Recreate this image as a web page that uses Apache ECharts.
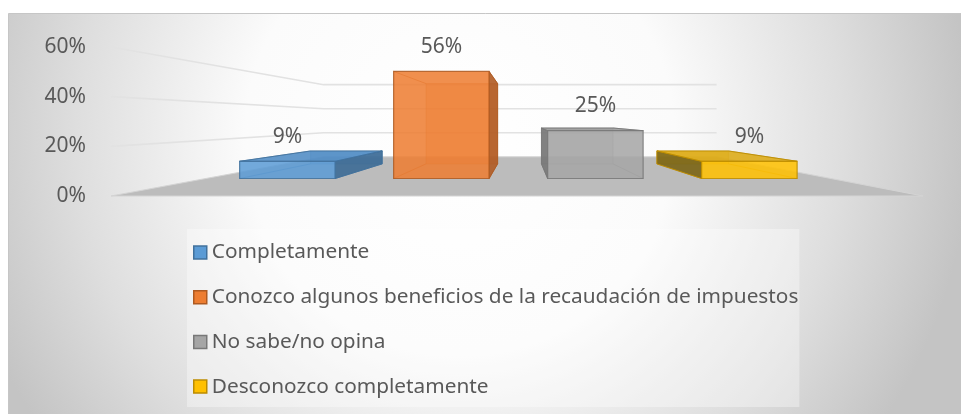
<!DOCTYPE html>
<html><head><meta charset="utf-8">
<script src="https://cdn.jsdelivr.net/npm/echarts@6/dist/echarts.min.js"></script>
<style>html,body{margin:0;padding:0;background:#fff}#c{width:961px;height:414px}</style>
</head><body><div id="c"></div>
<script>
// ---- data ----
const categories = ['Completamente', 'Conozco algunos beneficios de la recaudación de impuestos', 'No sabe/no opina', 'Desconozco completamente'];
const values = [0.09, 0.56, 0.25, 0.09];
const valueLabels = ['9%', '56%', '25%', '9%'];
const yTickValues = [0, 0.2, 0.4, 0.6];
const yTickLabels = ['0%', '20%', '40%', '60%'];

// ---- style ----
const faceColors = ['#5b9bd5', '#ed7d31', '#a5a5a5', '#ffc000'];
const edgeColors = ['#41719c', '#ae5a21', '#787878', '#bc8c00'];
const sideColors = ['#3c6a95', '#b05a22', '#777777', '#7a6414'];
const topColors  = ['#4f8bc4', '#d9702b', '#9a9a9a', '#dcaa14'];
const FONT = '"Noto Sans", "Open Sans", sans-serif';
const TXT = '#595959';
const VX = 523, VY = 120, K_FRONT = 0.77, K_BACK = 0.577, K_WALL = 0.484;
function proj(p, k) { return [VX + (p[0] - VX) * k, VY + (p[1] - VY) * k]; }

function wallItem(params, api) {
  const cs = params.coordSys;
  const v = api.value(1);
  const y = api.coord([0, v])[1];
  const xl = cs.x - 6, xr = cs.x + cs.width + 6;
  if (v === 0) {
    return { type: 'polygon', shape: { points: [[xl, y], [xr, y], proj([xr, y], K_WALL), proj([xl, y], K_WALL)] },
      style: { fill: '#bcbcbc', stroke: '#d4d4d4', lineWidth: 1 } };
  }
  return { type: 'polyline', shape: { points: [[xl, y], proj([xl, y], K_WALL), proj([xr, y], K_WALL)] },
    style: { stroke: '#e2e2e2', lineWidth: 1.6, fill: null } };
}

function makeBar(i) {
  return function (params, api) {
    const c = api.coord([api.value(0), 0]);
    const t = api.coord([api.value(0), api.value(1)]);
    const hw = api.size([1, 0])[0] * 0.31;
    const xl = c[0] - hw, xr = c[0] + hw, yb = c[1], yt = t[1];
    const F = (x, y) => proj([x, y], K_FRONT), B = (x, y) => proj([x, y], K_BACK);
    const edge = edgeColors[i];
    const ch = [];
    ch.push({ type: 'polygon', shape: { points: [B(xl, yt), B(xr, yt), B(xr, yb), B(xl, yb)] },
      style: { fill: faceColors[i], opacity: 0.35, stroke: edge, lineWidth: 1 } });
    [[xl, yt], [xr, yt], [xl, yb], [xr, yb]].forEach(p => {
      const a = F(p[0], p[1]), b = B(p[0], p[1]);
      ch.push({ type: 'line', shape: { x1: a[0], y1: a[1], x2: b[0], y2: b[1] },
        style: { stroke: edge, lineWidth: 1, opacity: 0.6 } });
    });
    const sx = c[0] < VX ? xr : xl;
    ch.push({ type: 'polygon', shape: { points: [F(sx, yt), B(sx, yt), B(sx, yb), F(sx, yb)] },
      style: { fill: sideColors[i], opacity: 0.9, stroke: edge, lineWidth: 1 } });
    if (yt > VY) {
      ch.push({ type: 'polygon', shape: { points: [F(xl, yt), F(xr, yt), B(xr, yt), B(xl, yt)] },
        style: { fill: topColors[i], opacity: 0.88, stroke: edge, lineWidth: 1 } });
    }
    const f1 = F(xl, yt), f2 = F(xr, yb);
    ch.push({ type: 'rect', shape: { x: f1[0], y: f1[1], width: f2[0] - f1[0], height: f2[1] - f1[1] },
      style: { fill: faceColors[i], opacity: 0.86, stroke: edge, lineWidth: 1.2 } });
    const lc = F(c[0], yt);
    ch.push({ type: 'text', x: lc[0], y: lc[1] - 14,
      style: { text: valueLabels[i], fill: TXT, fontSize: 21, fontFamily: FONT, align: 'center', verticalAlign: 'bottom' } });
    return { type: 'group', children: ch };
  };
}

const chart = echarts.init(document.getElementById('c'), null, { renderer: 'canvas' });
const series = [{
  type: 'custom', name: '_walls', z: 1, clip: false, silent: true,
  data: yTickValues.map(v => [0, v]), renderItem: wallItem
}].concat(categories.map((name, i) => ({
  type: 'custom', name: name, z: 3, clip: false,
  itemStyle: { color: faceColors[i], borderColor: edgeColors[i] },
  data: [[i, values[i]]], renderItem: makeBar(i)
})));

chart.setOption({
  animation: false,
  backgroundColor: '#ffffff',
  graphic: [{
    type: 'rect', z: -1, silent: true,
    shape: { x: 8.5, y: 13.5, width: 960, height: 408 },
    style: {
      fill: new echarts.graphic.RadialGradient(0.47, 0.3, 1.25, [
        { offset: 0, color: '#ffffff' }, { offset: 0.42, color: '#fbfbfb' }, { offset: 0.75, color: '#dedede' }, { offset: 1, color: '#c4c4c4' }
      ]),
      stroke: '#c6c6c6', lineWidth: 1
    }
  }],
  grid: { left: 117, right: 44, top: 47, bottom: 218, containLabel: false },
  xAxis: { type: 'category', data: categories, axisLabel: { show: false }, axisLine: { show: false }, axisTick: { show: false }, splitLine: { show: false } },
  yAxis: {
    type: 'value', min: 0, max: 0.6, interval: 0.2,
    axisLine: { show: false }, axisTick: { show: false }, splitLine: { show: false },
    axisLabel: { margin: 31, color: TXT, fontSize: 21, fontFamily: FONT, formatter: (v, idx) => yTickLabels[idx] }
  },
  legend: {
    orient: 'vertical', left: 187, top: 229, padding: [13, 1, 10, 6],
    itemWidth: 13, itemHeight: 13, itemGap: 23.7,
    backgroundColor: 'rgba(255,255,255,0.35)',
    textStyle: { color: TXT, fontSize: 20.8, fontFamily: FONT },
    data: categories.map((n, i) => ({ name: n, icon: 'rect', itemStyle: { color: faceColors[i], borderColor: edgeColors[i], borderWidth: 1.5 } }))
  },
  series: series
});
</script>
</body></html>
